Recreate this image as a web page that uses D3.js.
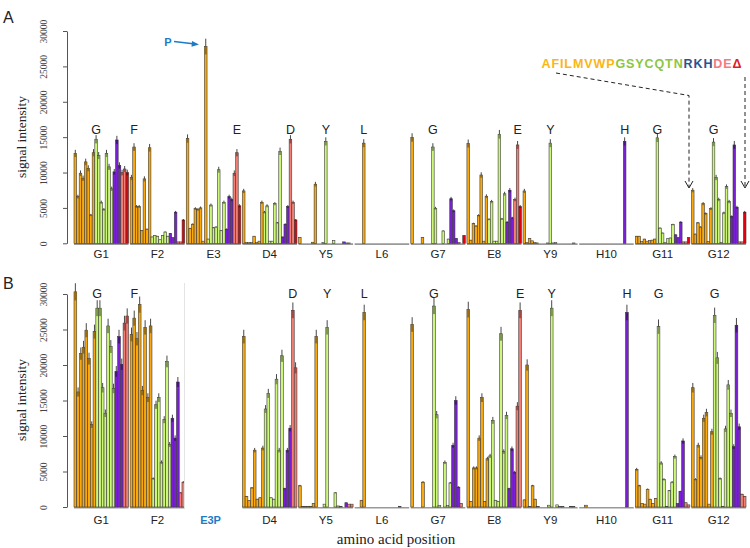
<!DOCTYPE html>
<html><head><meta charset="utf-8">
<script src="https://cdn.jsdelivr.net/npm/d3@7"></script>
<style>body{margin:0;background:#fff}</style></head>
<body>
<svg id="chart" width="750" height="548"></svg>
<script>
// ---------- data ----------
const residues = ["A","F","I","L","M","V","W","P","G","S","Y","C","Q","T","N","R","K","H","D","E","Δ"];
const classOf = ["hyd","hyd","hyd","hyd","hyd","hyd","hyd","hyd","pol","pol","pol","pol","pol","pol","pol","pos","pos","pos","neg","neg","del"];
const positions = ["G1","F2","E3","D4","Y5","L6","G7","E8","Y9","H10","G11","G12"];
const wildType = ["G","F","E","D","Y","L","G","E","Y","H","G","G"];
const yTicks = [0,5000,10000,15000,20000,25000,30000];

// panel A (21 values each: 20 amino acids + deletion)
const a_G1  = [12700,6600,9900,9200,11500,10600,4000,12800,14700,12400,5800,4800,12700,10800,7700,10100,14600,11000,10000,10500,10000];
const a_F2  = [9300,13600,5200,5200,1800,9100,2000,13500,900,1100,1000,500,1100,1600,1000,1400,800,4400,200,200,3300];
const a_E3  = [14800,2100,2700,4900,4800,5000,300,27800,600,5400,2200,2300,10400,1800,5800,2000,6600,6200,9900,12800,5300];
const a_D4  = [7400,100,100,100,1000,100,300,5800,4400,5300,300,300,5600,2900,13000,900,2700,5200,14700,5800,3300];
const a_Y5  = [850,0,0,0,0,150,8350,0,0,100,14400,0,0,400,0,0,0,200,50,50,0];
const a_L6  = [0,0,0,14150,0,0,0,0,0,0,0,0,0,0,0,0,0,0,0,0,0];
const a_G7  = [14950,0,0,0,850,0,0,0,13600,4950,0,0,1750,0,600,6300,4600,700,100,0,1100];
const a_E8  = [14100,450,2800,2450,3950,9650,300,6650,3400,5900,300,300,15400,3450,7000,3000,7500,3600,6200,13900,5200];
const a_Y9  = [7400,100,700,350,100,50,0,0,0,50,14150,50,100,0,0,0,0,0,0,50,0];
const a_H10 = [0,0,0,0,0,0,0,0,0,0,0,0,0,0,0,0,0,14400,0,0,0];
const a_G11 = [1000,1000,250,600,300,400,450,600,14900,2150,1450,100,650,750,2650,1200,800,3000,200,200,800];
const a_G12 = [7500,1300,2900,2300,5600,4200,250,4900,14300,9300,6200,120,4300,8000,5900,3800,13900,5100,200,200,4400];

// panel B (20 values each, E3 not measured)
const b_G1  = [30300,16200,21600,22500,24900,20900,11600,24700,28000,28000,16800,13200,25500,22600,16700,19100,24000,20100,25900,26900];
const b_F2  = [24300,26600,23700,28500,16400,25300,15400,25500,4000,14400,15400,6300,12300,20500,8800,12500,9700,17600,2000,3500];
const b_E3  = null;
const b_D4  = [24000,1500,900,2700,8000,1100,1300,8300,13800,16000,1300,1100,18000,8000,21300,2600,8000,11100,27700,19600];
const b_Y5  = [3000,100,100,100,100,500,24000,0,0,400,25300,0,0,2000,150,100,0,600,400,400];
const b_L6  = [0,0,950,27400,0,0,0,0,0,0,0,0,0,0,0,0,100,0,0,0];
const b_G7  = [25700,0,0,0,3500,0,0,0,28300,13000,200,0,6300,200,3400,8700,15000,2800,500,0];
const b_E8  = [27800,800,5500,5500,9700,15400,800,6800,7200,12200,950,800,24400,7800,12900,2600,8200,4900,14200,27700];
const b_Y9  = [1000,20000,100,3000,1100,100,0,0,0,250,28000,0,300,50,50,0,0,100,50,0];
const b_H10 = [0,0,250,0,0,0,0,0,0,0,0,0,0,0,0,0,0,27400,0,0];
const b_G11 = [5300,3000,500,400,2500,1100,500,1200,25400,6200,3900,100,2300,3500,7100,500,2200,9300,600,300];
const b_G12 = [16800,3900,8700,7000,12500,13300,400,10600,27000,21000,4000,100,11000,17200,13200,8500,25600,11300,1800,1500];

const panelA = [a_G1,a_F2,a_E3,a_D4,a_Y5,a_L6,a_G7,a_E8,a_Y9,a_H10,a_G11,a_G12];
const panelB = [b_G1,b_F2,b_E3,b_D4,b_Y5,b_L6,b_G7,b_E8,b_Y9,b_H10,b_G11,b_G12];

// ---------- styles ----------
const fillCol = {hyd:"#F9A90F", pol:"#CCF77A", pos:"#7A1FD6", neg:"#F27E74", del:"#E5000C"};
const topCol  = {hyd:"#7E5A0C", pol:"#5E7A34", pos:"#3A0F6A", neg:"#8E3530", del:"#700606"};
const legendCol = {hyd:"#FBB614", pol:"#8DC640", pos:"#2E528C", neg:"#F57A7E", del:"#E0201F"};
const errFrac = 0.04;

const svg = d3.select("#chart");
const xGroup = d3.scaleBand().domain(positions).range([74, 746]).paddingInner(0.028);
const bw = xGroup.bandwidth();
const xResA = d3.scaleBand().domain(residues).range([0, bw]);
const xResB = d3.scaleBand().domain(residues.slice(0,20)).range([0, bw]);
const yA = d3.scaleLinear().domain([0,30000]).range([243.3, 31]);
const yB = d3.scaleLinear().domain([0,30000]).range([507, 294]);

function drawPanel(data, y, xRes, wtY, lblY) {
  const g = svg.append("g");
  const ax = g.append("g").attr("transform","translate(67,0)")
    .call(d3.axisLeft(y).tickValues(yTicks).tickSize(4).tickSizeOuter(0).tickFormat(d3.format("d")));
  ax.select(".domain").attr("stroke","#555");
  ax.selectAll(".tick line").attr("stroke","#555");
  ax.selectAll(".tick text").attr("transform","rotate(-90)").attr("x",0).attr("y",-20).attr("dy",null)
    .attr("text-anchor","middle").attr("fill","#444")
    .style("font-family","'Liberation Serif','DejaVu Serif',serif").style("font-size","9.5px");
  positions.forEach((p, gi) => {
    const vals = data[gi];
    const x0 = xGroup(p);
    if (!vals) return;
    g.append("line").attr("x1",x0).attr("x2",x0+bw).attr("y1",y(0)+0.8).attr("y2",y(0)+0.8)
      .attr("stroke","#999").attr("stroke-width",1.6);
    const res = xRes.domain();
    vals.forEach((v, i) => {
      if (!(v > 0)) return;
      const cls = classOf[i];
      const bx = x0 + xRes(res[i]);
      const w = xRes.bandwidth();
      g.append("rect").attr("x",bx).attr("y",y(v)).attr("width",w).attr("height",y(0)-y(v))
        .attr("fill",fillCol[cls]).attr("stroke","#3c3c3c").attr("stroke-width",0.6);
      const e = v*errFrac;
      if (v > 400) {
        g.append("rect").attr("x",bx+0.3).attr("y",y(v)).attr("width",w-0.6).attr("height",y(v-e)-y(v))
          .attr("fill",topCol[cls]).attr("opacity",0.75);
        g.append("line").attr("x1",bx+w/2).attr("x2",bx+w/2).attr("y1",y(v+e)).attr("y2",y(v))
          .attr("stroke","#333").attr("stroke-width",0.9);
      }
    });
    const wi = residues.indexOf(wildType[gi]);
    g.append("text").attr("x", x0 + xRes(residues[wi]) + xRes.bandwidth()/2).attr("y", wtY)
      .attr("text-anchor","middle").attr("fill","#222")
      .style("font-family","'Liberation Sans',Arial,sans-serif").style("font-size","12.5px").text(wildType[gi]);
    g.append("text").attr("x", x0 + bw/2).attr("y", lblY).attr("text-anchor","middle").attr("fill","#222")
      .style("font-family","'Liberation Sans',Arial,sans-serif").style("font-size","11.5px").text(p);
  });
}

drawPanel(panelA, yA, xResA, 133.5, 257.5);
drawPanel(panelB, yB, xResB, 297.5, 524);

svg.append("text").attr("x", xGroup("E3") + bw/2 - 3).attr("y", 524).attr("text-anchor","middle")
  .attr("fill","#1E7BC8").style("font-family","'Liberation Sans',Arial,sans-serif")
  .style("font-size","11px").style("font-weight","bold").text("E3P");
svg.append("line").attr("x1",184.5).attr("x2",184.5).attr("y1",283).attr("y2",508)
  .attr("stroke","#e4e4e4").attr("stroke-width",1);

const serif = "'Liberation Serif','DejaVu Serif',serif";
svg.append("text").attr("transform","translate(26,137) rotate(-90)").attr("text-anchor","middle")
  .style("font-family",serif).style("font-size","13.5px").attr("fill","#222").text("signal intensity");
svg.append("text").attr("transform","translate(26,400) rotate(-90)").attr("text-anchor","middle")
  .style("font-family",serif).style("font-size","13.5px").attr("fill","#222").text("signal intensity");
svg.append("text").attr("x",396).attr("y",544).attr("text-anchor","middle")
  .style("font-family",serif).style("font-size","15px").attr("fill","#222").text("amino acid position");

svg.append("text").attr("x",3).attr("y",23).style("font-family","'Liberation Sans',Arial,sans-serif")
  .style("font-size","16px").attr("fill","#222").text("A");
svg.append("text").attr("x",3).attr("y",289).style("font-family","'Liberation Sans',Arial,sans-serif")
  .style("font-size","16px").attr("fill","#222").text("B");

// legend as one spaced string
const leg = svg.append("text").attr("x",541.5).attr("y",68)
  .attr("textLength",200).attr("lengthAdjust","spacing")
  .style("font-family","'Liberation Sans',Arial,sans-serif").style("font-size","12.5px").style("font-weight","bold");
residues.forEach((r, i) => {
  leg.append("tspan").attr("fill", legendCol[classOf[i]]).text(r);
});

svg.append("path").attr("d","M556,73 L689,95.5 L689,187").attr("fill","none")
  .attr("stroke","#222").attr("stroke-width",1).attr("stroke-dasharray","4,3");
svg.append("path").attr("d","M685,181 L689,188 L693,181").attr("fill","none").attr("stroke","#222").attr("stroke-width",1);
svg.append("path").attr("d","M745,77 L745,188").attr("fill","none")
  .attr("stroke","#222").attr("stroke-width",1).attr("stroke-dasharray","4,3");
svg.append("path").attr("d","M741,181 L745,188 L749,181").attr("fill","none").attr("stroke","#222").attr("stroke-width",1);

svg.append("text").attr("x",168).attr("y",45.5).attr("text-anchor","middle").attr("fill","#1E7BC8")
  .style("font-family","'Liberation Sans',Arial,sans-serif").style("font-size","11px").style("font-weight","bold").text("P");
svg.append("line").attr("x1",174).attr("y1",41.5).attr("x2",193).attr("y2",43.8).attr("stroke","#1E7BC8").attr("stroke-width",1.4);
svg.append("path").attr("d","M199,44.5 L192,41 L191.5,46.8 Z").attr("fill","#1E7BC8");
</script>
</body></html>
